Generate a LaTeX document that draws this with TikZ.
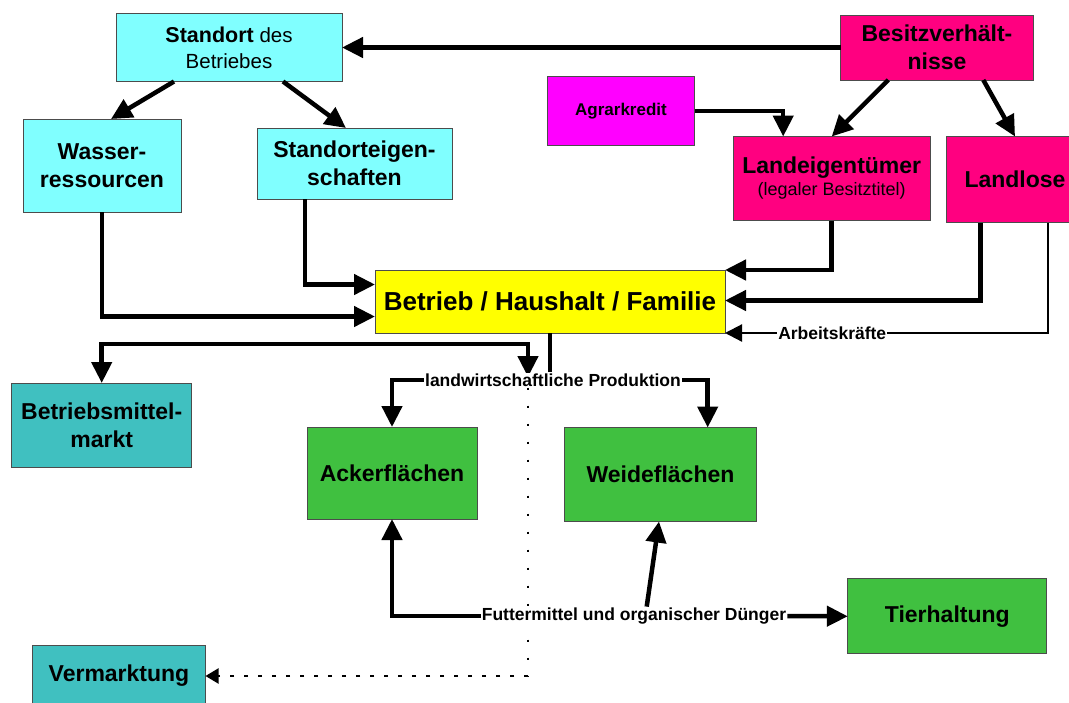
\documentclass[tikz,border=0pt]{standalone}
\usepackage{fontspec}
\setmainfont{Liberation Sans}
\usepackage{xcolor}
\usetikzlibrary{arrows.meta, positioning}
\definecolor{standortC}{RGB}{128, 255, 255}
\definecolor{marktC}{RGB}{64, 192, 192}
\definecolor{betriebC}{RGB}{255, 255, 0}
\definecolor{besitzC}{RGB}{255, 0, 128}
\definecolor{kreditC}{RGB}{255, 0, 255}
\definecolor{flaecheC}{RGB}{64, 192, 64}
\newcommand{\fsz}[2]{\fontsize{#1}{#2}\selectfont}

\begin{document}
\begin{tikzpicture}[x=1pt, y=-1pt,
  box/.style={draw=black!70, line width=1pt, inner sep=0pt, outer sep=0pt,
    align=center, font=\fsz{23}{28}\bfseries},
  lab/.style={fill=white, inner sep=1pt, font=\fsz{17.5}{20}\bfseries},
  arr/.style={line width=4.5pt, -{Triangle[length=21pt, width=20pt]}},
  arrboth/.style={line width=4.5pt, {Triangle[length=21pt, width=20pt]}-{Triangle[length=21pt, width=20pt]}},
  thinarr/.style={line width=2.2pt, -{Triangle[length=17pt, width=17pt]}},
  dotv/.style={line width=2pt, dash pattern=on 2pt off 16pt},
  doth/.style={line width=2pt, dash pattern=on 4pt off 10pt, -{Triangle[length=13pt, width=15pt]}}]
  \useasboundingbox (0,0) rectangle (1069,702);

  % Boxes
  \node[box, fill=standortC, minimum width=226, minimum height=68, font=\fsz{20.5}{26}]
    (standort) at (229,47.5) {{\fsz{21.5}{26}\bfseries Standort} des\\Betriebes};
  \node[box, fill=standortC, minimum width=158, minimum height=93] (wasser) at (102,165.5) {Wasser-\\ressourcen};
  \node[box, fill=standortC, minimum width=195, minimum height=71] (eigen) at (354.5,163.5) {Standorteigen-\\schaften};
  \node[box, fill=betriebC, minimum width=350, minimum height=63, font=\fsz{26}{28}\bfseries]
    (betrieb) at (550,301.5) {Betrieb / Haushalt / Familie};
  \node[box, fill=besitzC, minimum width=193, minimum height=65] (besitz) at (937,47.5) {Besitzverhält-\\nisse};
  \node[box, fill=kreditC, minimum width=147, minimum height=69, font=\fsz{17}{20}\bfseries]
    (kredit) at (621,111) {Agrarkredit};
  \node[box, fill=besitzC, minimum width=197, minimum height=84] (eigentum) at (831.7,178.5)
    {Landeigentümer\\[-6pt]{\fsz{18}{22}\mdseries (legaler Besitztitel)}};
  \node[box, fill=besitzC, minimum width=138, minimum height=86] (landlos) at (1015,179.5) {Landlose};
  \node[box, fill=marktC, minimum width=180, minimum height=84] (mittel) at (101.7,425) {Betriebsmittel-\\markt};
  \node[box, fill=flaecheC, minimum width=170, minimum height=92] (acker) at (392,473) {Ackerflächen};
  \node[box, fill=flaecheC, minimum width=192, minimum height=94] (weide) at (660.5,474.5) {Weideflächen};
  \node[box, fill=flaecheC, minimum width=199, minimum height=75] (tier) at (947.3,616.3) {Tierhaltung};
  \node[box, fill=marktC, minimum width=173, minimum height=62] (vermarkt) at (119,676) {Vermarktung};

  % Standort und Besitzverhaeltnisse
  \draw[arr] (besitz) -- (standort);
  \draw[arr] ([xshift=-55]standort.south) -- ([xshift=9]wasser.north);
  \draw[arr] ([xshift=54]standort.south) -- ([xshift=-8.5]eigen.north);
  \draw[arr] (wasser.south) |- ([yshift=-15]betrieb.west);
  \draw[arr] ([xshift=-49.5]eigen.south) |- ([yshift=17]betrieb.west);
  \draw[arr] (kredit.east) -| ([xshift=-48.5]eigentum.north);
  \draw[arr] ([xshift=-48.7]besitz.south) -- (eigentum.north);
  \draw[arr] ([xshift=46.3]besitz.south) -- (landlos.north);
  \draw[arr] (eigentum.south) |- (betrieb.north east);
  \draw[arr] ([xshift=-34.3]landlos.south) |- ([yshift=1]betrieb.east);
  \draw[thinarr] ([xshift=33]landlos.south) |- (betrieb.south east)
    node[lab, pos=0.834] {Arbeitskräfte};

  % Betriebsmittel und Produktion
  \coordinate (vmk) at (528,377);
  \draw[arrboth] (mittel.north) |- ([yshift=33]vmk) -- (vmk);
  \node[lab] (prod) at (553,380) {landwirtschaftliche Produktion};
  \draw[line width=4.5pt] (betrieb.south) -- (betrieb.south |- prod.north);
  \draw[arr] (prod.west) -| (acker.north);
  \draw[arr] (prod.east) -| ([xshift=47.2]weide.north);

  % Vermarktung (gepunktet)
  \coordinate (dcorner) at (vmk |- vermarkt.east);
  \draw[dotv] (prod.south -| vmk) -- (dcorner);
  \draw[doth] (dcorner) -- (vermarkt.east);

  % Futtermittel
  \node[lab] (futter) at (634,616) {Futtermittel und organischer Dünger};
  \draw[arr] (futter.west) -| (acker.south);
  \draw[arr] (futter.east) -- (tier.west);
  \draw[arr] ([xshift=12.7]futter.north) -- ([xshift=-1.5]weide.south);
\end{tikzpicture}
\end{document}
